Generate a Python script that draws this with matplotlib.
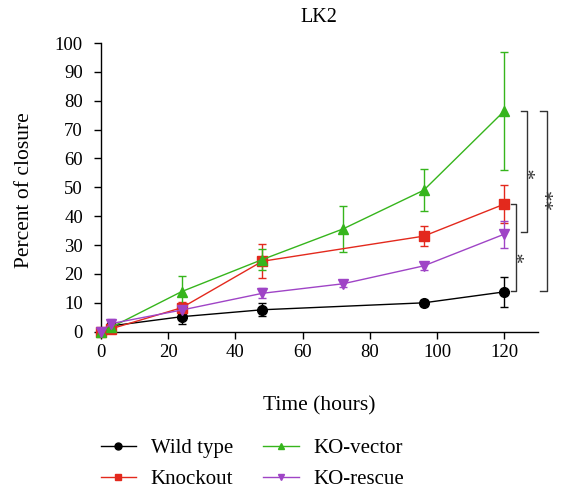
import matplotlib
matplotlib.use("Agg")
import matplotlib.pyplot as plt

plt.rcParams['font.family'] = ['Liberation Serif', 'DejaVu Serif']

# Data
wt_t = [0, 3, 24, 48, 96, 120]
wt_y = [0, 2, 5.2, 7.6, 10, 13.8]
wt_e = [0, 1, 2.7, 2.2, 1.0, 5.2]

ko_t = [0, 3, 24, 48, 96, 120]
ko_y = [0, 1, 8.3, 24.4, 33.1, 44.2]
ko_e = [0, 0.5, 2.0, 5.9, 3.5, 6.7]

kov_t = [0, 3, 24, 48, 72, 96, 120]
kov_y = [0, 1.5, 13.9, 25, 35.6, 49, 76.5]
kov_e = [0, 0.5, 5.5, 3.5, 7.9, 7.3, 20.5]

kor_t = [0, 3, 24, 48, 72, 96, 120]
kor_y = [0, 2.8, 7.5, 13.3, 16.6, 22.8, 33.8]
kor_e = [0, 1.6, 1.0, 1.8, 1.0, 1.5, 4.7]

labels = ["Wild type", "Knockout", "KO-vector", "KO-rescue"]
colors = ["#000000", "#e3291d", "#36b51c", "#9f44c6"]
markers = ["o", "s", "^", "v"]

fig = plt.figure(figsize=(5.64, 4.97), dpi=100)
ax = fig.add_axes([101/564, 1-331.7/497, 437/564, (331.7-43)/497])

series = [(wt_t, wt_y, wt_e), (ko_t, ko_y, ko_e), (kov_t, kov_y, kov_e), (kor_t, kor_y, kor_e)]
handles = []
for (t, y, e), lab, c, m in zip(series, labels, colors, markers):
    ax.errorbar(t, y, yerr=e, color=c, ecolor=c, elinewidth=1, capsize=3,
                capthick=1, lw=1, marker=m, markersize=7, clip_on=False, zorder=3)
    h, = ax.plot([], [], color=c, lw=1, marker=m, markersize=5, label=lab)
    handles.append(h)

ax.set_xlim(0, 130)
ax.set_ylim(0, 100)
ax.set_xticks(range(0, 121, 20))
ax.set_yticks(range(0, 101, 10))
for s in ['top', 'right']:
    ax.spines[s].set_visible(False)
for s in ['left', 'bottom']:
    ax.spines[s].set_linewidth(1)
ax.tick_params(direction='out', length=5, width=1, labelsize=13.5)
ax.tick_params(axis='y', pad=8)
ax.tick_params(axis='x', pad=4)

ax.set_xlabel("Time (hours)", fontsize=15.5)
ax.xaxis.set_label_coords(0.5, -0.225)
ax.set_ylabel("Percent of closure", fontsize=15.5)
ax.yaxis.set_label_coords(-0.153, 0.49)

fig.text(319/564, 1-18/497, "LK2", ha='center', va='center', fontsize=14.5)

# significance brackets
bc = '#333333'
def bracket(x0, x1, ytop, ybot):
    ax.plot([x0, x1, x1, x0], [ytop, ytop, ybot, ybot], color=bc, lw=1, clip_on=False)

bracket(125.0, 126.6, 76.5, 34.4)
ax.text(129.6, 55, "*", fontsize=15, ha='center', va='center', rotation=90, color=bc)
bracket(122.0, 123.5, 44.2, 14.2)
ax.text(126.3, 26, "*", fontsize=15, ha='center', va='center', rotation=90, color=bc)
bracket(130.6, 132.8, 76.5, 14.2)
ax.text(135.0, 46, "**", fontsize=15, ha='center', va='center', rotation=90, color=bc)

fig.legend(handles=handles, ncol=2, loc='upper left', bbox_to_anchor=(82/564, 1-420/497),
           frameon=False, fontsize=15, handlelength=1.7, columnspacing=1.45,
           labelspacing=0.55, handletextpad=0.7, borderpad=0.4)

fig.savefig("out.png", dpi=100)
